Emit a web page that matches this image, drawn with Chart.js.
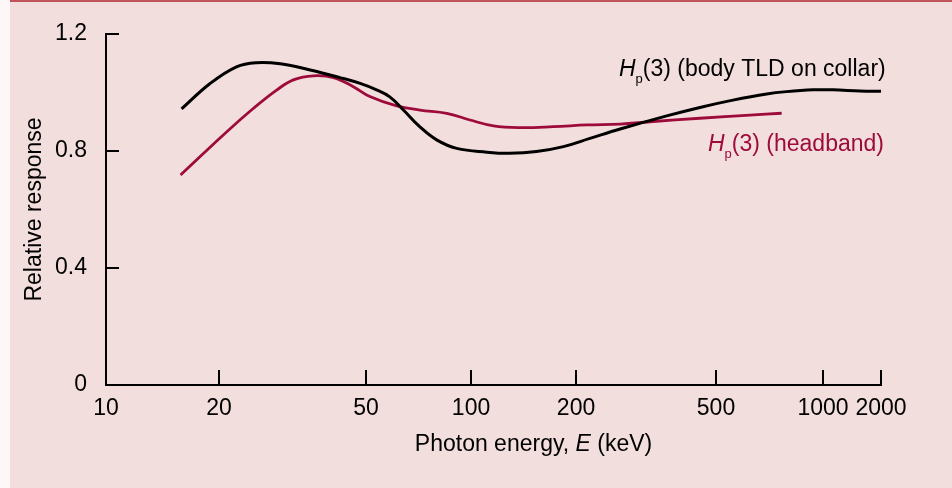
<!DOCTYPE html>
<html>
<head>
<meta charset="utf-8">
<script src="https://cdn.jsdelivr.net/npm/chart.js@4.4.0/dist/chart.umd.min.js"></script>
<style>
    html, body { margin: 0; padding: 0; background: #fdf7f7; }
    #frame {
        position: absolute; left: 10px; top: 0;
        width: 942px; height: 486px;
        background: #f2dedc;
        border-top: 2px solid #c0545d;
    }
    canvas { position: absolute; left: 0; top: 0; }
</style>
</head>
<body>
<div id="frame"></div>
<canvas id="chart" width="952" height="488"></canvas>
<script>
// photon energy (keV) and relative response
const collarEnergy = [15.9, 18.9, 22.3, 25.3, 29.3, 35.3, 42.5, 48.2, 53.6, 58.5, 64.0, 71.0, 79.7, 91.0,
    111, 129, 154, 184, 219, 267, 362, 450, 558, 694, 790, 937, 1127, 1556, 2000];
const collarResponse = [0.944, 1.030, 1.088, 1.102, 1.098, 1.077, 1.051, 1.031, 1.009, 0.985, 0.940, 0.885, 0.838, 0.809,
    0.796, 0.792, 0.798, 0.815, 0.843, 0.875, 0.920, 0.949, 0.974, 0.995, 1.003, 1.009, 1.009, 1.005, 1.004];

const headbandEnergy = [15.8, 21.0, 24.8, 28.7, 31.8, 36.0, 40.8, 46.2, 51.3, 61.2, 71.4, 85.2, 99.3,
    116, 138, 172, 215, 267, 325, 450, 623, 765];
const headbandResponse = [0.718, 0.866, 0.946, 1.009, 1.043, 1.057, 1.051, 1.020, 0.986, 0.954, 0.940, 0.929, 0.906,
    0.886, 0.880, 0.883, 0.889, 0.892, 0.900, 0.912, 0.923, 0.929];

const xTickValues = [10, 20, 50, 100, 200, 500, 1000, 2000];
const yTickValues = [0, 0.4, 0.8, 1.2];

// the printed energy axis is not evenly logarithmic: where each tick sits along the axis (0..1)
const xTickSpots = [0, 0.1458, 0.3355, 0.4710, 0.6065, 0.7871, 0.9252, 1];

const fontFamily = '"Liberation Sans", Arial, Helvetica, sans-serif';
const crimson = '#9e0b3b';

function warp(v) {
    const lv = Math.log10(v);
    for (let i = 0; i < xTickValues.length - 1; i++) {
        const a = Math.log10(xTickValues[i]), b = Math.log10(xTickValues[i + 1]);
        if (lv <= b || i === xTickValues.length - 2) {
            return xTickSpots[i] + (lv - a) / (b - a) * (xTickSpots[i + 1] - xTickSpots[i]);
        }
    }
}

function unwarp(f) {
    for (let i = 0; i < xTickSpots.length - 1; i++) {
        if (f <= xTickSpots[i + 1] || i === xTickSpots.length - 2) {
            const a = Math.log10(xTickValues[i]), b = Math.log10(xTickValues[i + 1]);
            const t = (f - xTickSpots[i]) / (xTickSpots[i + 1] - xTickSpots[i]);
            return Math.pow(10, a + t * (b - a));
        }
    }
}

// log scale that follows the figure's own tick spacing
class FigureLogScale extends Chart.LogarithmicScale {
    getPixelForValue(value) {
        if (value === null || isNaN(value)) return NaN;
        return this.getPixelForDecimal(warp(value));
    }
    getValueForPixel(pixel) {
        return unwarp(this.getDecimalForPixel(pixel));
    }
}
FigureLogScale.id = 'figureLog';
FigureLogScale.defaults = Chart.LogarithmicScale.defaults;
Chart.register(FigureLogScale);

function toPoints(xs, ys) {
    return xs.map((x, i) => ({ x: x, y: ys[i] }));
}

// tick marks point into the plot
const inwardTicks = {
    id: 'inwardTicks',
    afterDraw(chart) {
        const { ctx, scales: { x, y } } = chart;
        ctx.save();
        ctx.strokeStyle = '#000';
        ctx.lineWidth = 2;
        ctx.beginPath();
        x.ticks.forEach(t => {
            if (t.value === x.min) return;
            const px = Math.round(x.getPixelForValue(t.value));
            ctx.moveTo(px, y.bottom);
            ctx.lineTo(px, y.bottom - 15);
        });
        y.ticks.forEach(t => {
            if (t.value === 0) return;
            const py = Math.round(y.getPixelForValue(t.value));
            ctx.moveTo(x.left, py);
            ctx.lineTo(x.left + 13, py);
        });
        ctx.stroke();
        ctx.restore();
    }
};

function drawHp(ctx, left, base, rest, color) {
    ctx.fillStyle = color;
    ctx.textBaseline = 'alphabetic';
    ctx.textAlign = 'left';
    ctx.font = 'italic 23px ' + fontFamily;
    ctx.fillText('H', left, base);
    let cx = left + ctx.measureText('H').width;
    ctx.font = '13px ' + fontFamily;
    ctx.fillText('p', cx, base + 7);
    cx += ctx.measureText('p').width;
    ctx.font = '23px ' + fontFamily;
    ctx.fillText(rest, cx, base);
}

// curve labels and the energy axis title (italic E)
const figureText = {
    id: 'figureText',
    afterDraw(chart) {
        const { ctx, chartArea } = chart;
        ctx.save();
        drawHp(ctx, 619, 76, '(3) (body TLD on collar)', '#000');
        drawHp(ctx, 708, 151, '(3) (headband)', crimson);

        const parts = [['Photon energy, ', ''], ['E', 'italic '], [' (keV)', '']];
        let total = 0;
        parts.forEach(p => { ctx.font = p[1] + '23px ' + fontFamily; total += ctx.measureText(p[0]).width; });
        let cx = (chartArea.left + chartArea.right) / 2 + 40 - total / 2;
        ctx.fillStyle = '#000';
        ctx.textBaseline = 'alphabetic';
        parts.forEach(p => {
            ctx.font = p[1] + '23px ' + fontFamily;
            ctx.fillText(p[0], cx, 451);
            cx += ctx.measureText(p[0]).width;
        });
        ctx.restore();
    }
};

const ctx = document.getElementById('chart');
new Chart(ctx, {
    type: 'line',
    data: {
        datasets: [
            {
                label: 'Hp(3) (body TLD on collar)',
                data: toPoints(collarEnergy, collarResponse),
                borderColor: '#000',
                borderWidth: 3,
                tension: 0.4,
                pointRadius: 0,
                fill: false,
            },
            {
                label: 'Hp(3) (headband)',
                data: toPoints(headbandEnergy, headbandResponse),
                borderColor: crimson,
                borderWidth: 2.8,
                tension: 0.4,
                pointRadius: 0,
                fill: false,
            },
        ]
    },
    options: {
        responsive: false,
        animation: false,
        layout: { padding: { top: 34, right: 71, bottom: 0, left: 0 } },
        plugins: {
            legend: { display: false },
            tooltip: { enabled: false },
        },
        scales: {
            x: {
                type: 'figureLog',
                min: 10,
                max: 2000,
                grid: { display: false },
                border: { display: true, color: '#000', width: 2 },
                afterBuildTicks: scale => { scale.ticks = xTickValues.map(v => ({ value: v })); },
                afterFit: scale => { scale.height = 103; },
                ticks: {
                    autoSkip: false,
                    maxRotation: 0,
                    padding: 2,
                    color: '#000',
                    font: { family: fontFamily, size: 23 },
                    callback: value => String(value),
                },
            },
            y: {
                type: 'linear',
                min: 0,
                max: 1.2,
                grid: { display: false },
                border: { display: true, color: '#000', width: 2 },
                afterBuildTicks: scale => { scale.ticks = yTickValues.map(v => ({ value: v })); },
                afterFit: scale => { scale.width = 106; },
                ticks: {
                    padding: 11,
                    color: '#000',
                    font: { family: fontFamily, size: 23 },
                    callback: value => String(value),
                },
                title: {
                    display: true,
                    text: 'Relative response',
                    color: '#000',
                    font: { family: fontFamily, size: 23 },
                    padding: { top: 21, bottom: 0 },
                },
            },
        },
    },
    plugins: [inwardTicks, figureText],
});
</script>
</body>
</html>
